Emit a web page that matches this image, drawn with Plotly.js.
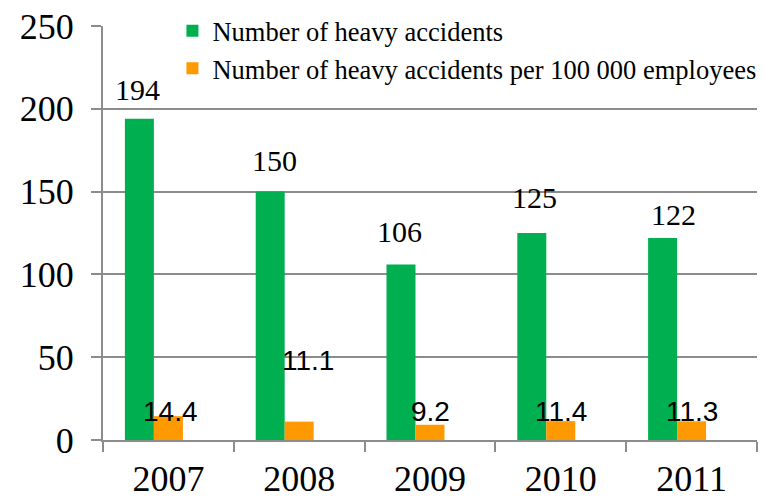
<!DOCTYPE html>
<html><head><meta charset="utf-8">
<script src="https://cdn.plot.ly/plotly-3.0.1.min.js"></script>
<style>html,body{margin:0;padding:0;background:#fff}#chart{width:764px;height:499px}</style>
</head><body><div id="chart"></div>
<script>
// ---- data ----
const years = ['2007', '2008', '2009', '2010', '2011'];
const heavyAccidents = [194, 150, 106, 125, 122];
const accidentsPer100k = [14.4, 11.1, 9.2, 11.4, 11.3];
const seriesNames = ['Number of heavy accidents', 'Number of heavy accidents per 100 000 employees'];
const yTickValues = [0, 50, 100, 150, 200, 250];

// ---- styling / layout constants ----
const GREEN = '#00B050', ORANGE = '#FF9900', GRID = '#8c8c8c';
const SERIF = 'Liberation Serif, Times New Roman, DejaVu Serif, serif';
const SANS = 'Liberation Sans, Arial, sans-serif';
const barW = 0.2217;
const greenOff = -0.3326, orangeOff = greenOff + barW;
// label nudges in px [dx, dy above bar top]
const greenNudge = [[-2, 29.5], [4, 31], [-2, 33], [2.5, 36], [10.5, 23]];
// orange label levels (axis units) and x nudges (px)
const orangeLevel = [17.5, 48.2, 17.5, 17.5, 17.5];
const orangeDx = [2, 8.5, 0.5, 0.5, 0.5];

const idx = years.map((_, i) => i);

const traces = [
  {type: 'bar', name: seriesNames[0], x: years, y: heavyAccidents, legendgroup: 'g1',
   width: barW, offset: greenOff, marker: {color: GREEN}, hoverinfo: 'x+y'},
  {type: 'bar', name: seriesNames[1], x: years, y: accidentsPer100k, legendgroup: 'g2',
   width: barW, offset: orangeOff, marker: {color: ORANGE}, hoverinfo: 'x+y'}
];

const annotations = [];
idx.forEach(i => {
  annotations.push({x: i + greenOff + barW / 2, y: heavyAccidents[i], xref: 'x', yref: 'y',
    text: String(heavyAccidents[i]), showarrow: false, yanchor: 'middle', xanchor: 'center',
    xshift: greenNudge[i][0], yshift: greenNudge[i][1],
    font: {family: SERIF, size: 30, color: '#000'}});
  annotations.push({x: i + orangeOff + barW / 2, y: orangeLevel[i], xref: 'x', yref: 'y',
    text: accidentsPer100k[i].toFixed(1), showarrow: false, yanchor: 'middle', xanchor: 'center',
    xshift: orangeDx[i],
    font: {family: SANS, size: 28, color: '#000'}});
});

const layout = {
  width: 764, height: 499,
  margin: {l: 103, r: 7, t: 26, b: 59, pad: 0, autoexpand: false},
  paper_bgcolor: '#fff', plot_bgcolor: '#fff',
  barmode: 'overlay',
  showlegend: true,
  legend: {xref: 'container', yref: 'container', x: 0.2257, xanchor: 'left', y: 0.986, yanchor: 'top',
    bgcolor: 'rgba(0,0,0,0)',
    font: {family: SERIF, size: 26.5, color: '#000'}, tracegroupgap: 2, itemwidth: 30,
    traceorder: 'normal'},
  xaxis: {type: 'category', range: [-0.5, 4.5], tickson: 'boundaries', ticks: 'outside',
    ticklen: 10, tickwidth: 2, tickcolor: GRID, showline: true, linecolor: GRID, linewidth: 2,
    showgrid: false, zeroline: false, ticklabelstandoff: 6,
    tickfont: {family: SERIF, size: 36, color: '#000'}},
  yaxis: {range: [0, 250], tickvals: yTickValues, ticks: 'outside', ticklen: 10, tickwidth: 2,
    tickcolor: GRID, showline: true, linecolor: GRID, linewidth: 2, showgrid: true,
    gridcolor: GRID, gridwidth: 2, zeroline: false, ticklabelstandoff: 10,
    tickfont: {family: SERIF, size: 36, color: '#000'}},
  annotations: annotations
};

Plotly.newPlot('chart', traces, layout, {displayModeBar: false, staticPlot: true});
</script>
</body></html>
